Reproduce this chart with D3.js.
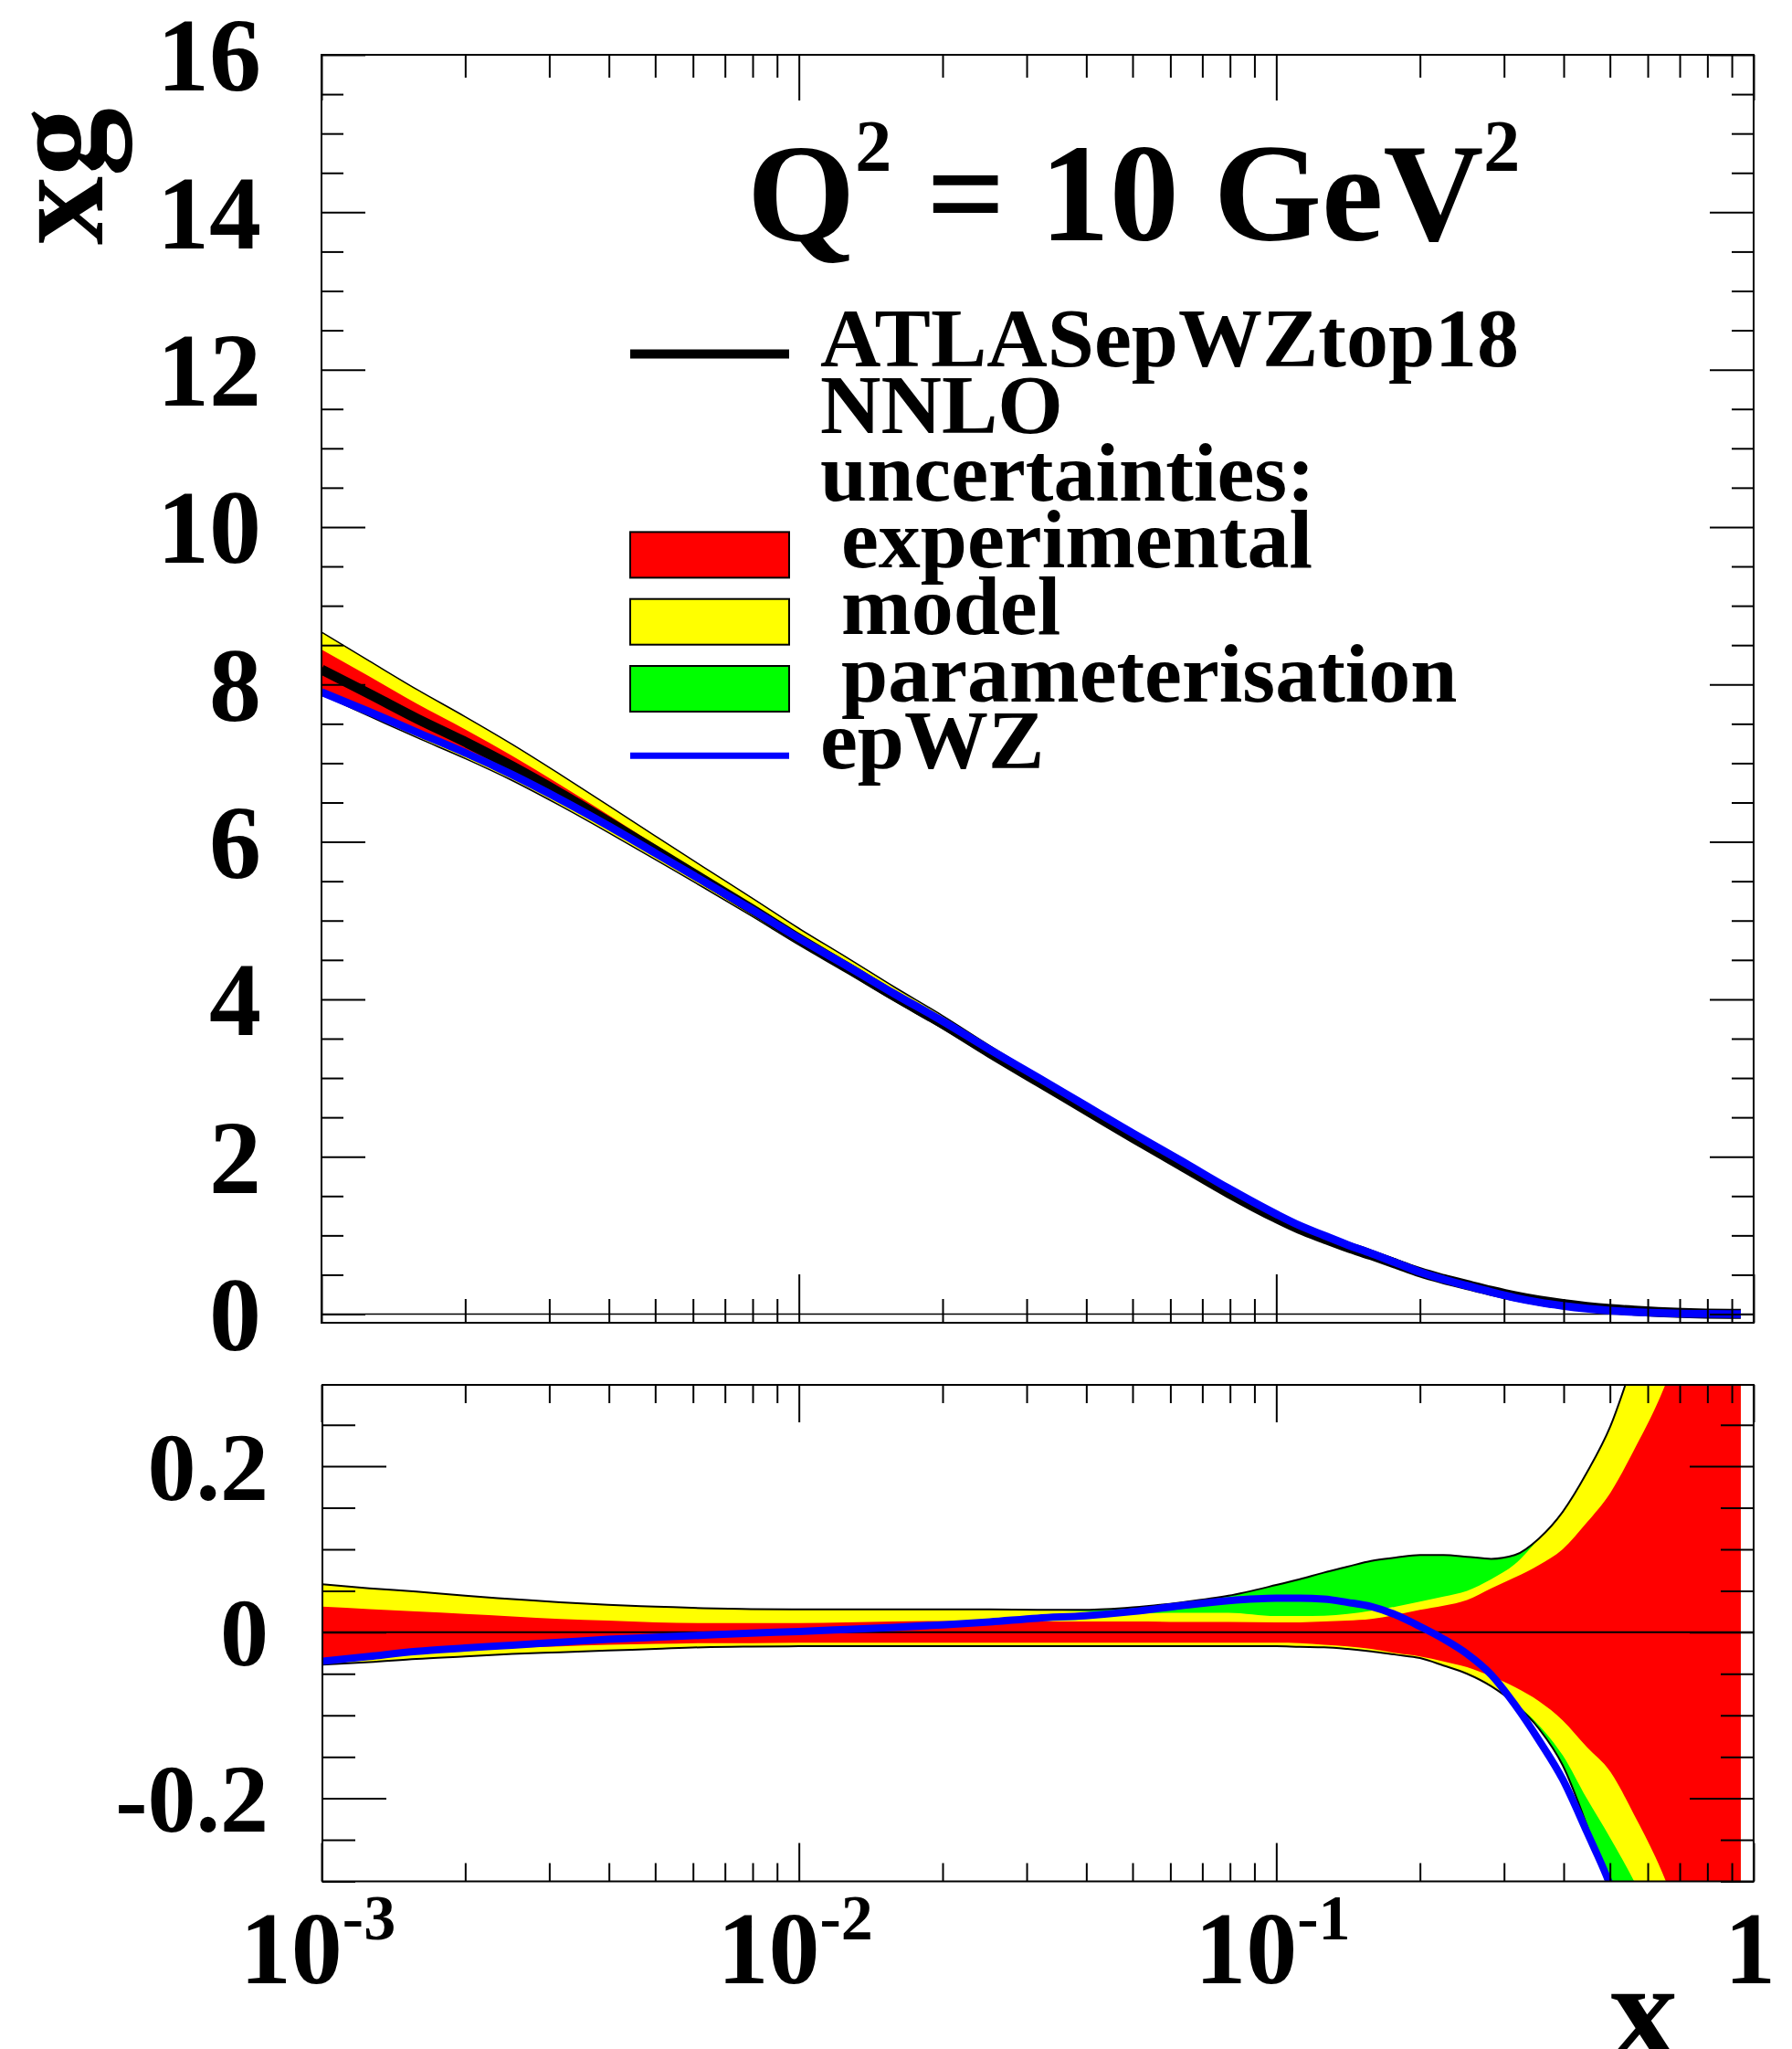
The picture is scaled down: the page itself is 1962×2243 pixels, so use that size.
<!DOCTYPE html>
<html>
<head>
<meta charset="utf-8">
<script src="https://cdn.jsdelivr.net/npm/d3@7"></script>
<style>
html, body { margin: 0; padding: 0; background: #fff; }
svg { display: block; }
text { font-family: 'Liberation Serif', 'Times New Roman', serif; font-weight: bold; fill: #000; }
</style>
</head>
<body>
<script>
// Gluon momentum density xg at Q^2 = 10 GeV^2 with relative uncertainty bands
const xValues = [0.001, 0.00126, 0.00158, 0.002, 0.00251, 0.00316, 0.00398, 0.00501, 0.00631, 0.00794,
  0.01, 0.0126, 0.0158, 0.02, 0.0251, 0.0316, 0.0398, 0.0501, 0.0631, 0.0794,
  0.1, 0.112, 0.126, 0.141, 0.158, 0.178, 0.2, 0.224, 0.251, 0.282,
  0.316, 0.355, 0.398, 0.447, 0.501, 0.562, 0.631, 0.708, 0.794, 0.891, 0.94];

const xgCentral = [8.19, 7.88, 7.57, 7.27, 6.96, 6.62, 6.26, 5.89, 5.52, 5.15,
  4.77, 4.41, 4.05, 3.69, 3.32, 2.96, 2.60, 2.24, 1.89, 1.54,
  1.22, 1.08, 0.96, 0.85, 0.75, 0.64, 0.53, 0.445, 0.37, 0.295,
  0.228, 0.172, 0.128, 0.092, 0.064, 0.043, 0.027, 0.015, 0.007, 0.003, 0.002];

// experimental
const expUp = [0.031, 0.028, 0.025, 0.022, 0.019, 0.016, 0.014, 0.012, 0.011, 0.011,
  0.011, 0.012, 0.013, 0.0135, 0.0135, 0.013, 0.013, 0.013, 0.0125, 0.0125,
  0.012, 0.012, 0.013, 0.014, 0.016, 0.021, 0.027, 0.032, 0.039, 0.053,
  0.066, 0.081, 0.100, 0.132, 0.168, 0.22, 0.278, 0.35, 0.43, 0.51, 0.55];
const expDn = [-0.033, -0.029, -0.025, -0.022, -0.019, -0.017, -0.015, -0.014, -0.013, -0.013,
  -0.0125, -0.0125, -0.0125, -0.0125, -0.0125, -0.0125, -0.0125, -0.0125, -0.0125, -0.0125,
  -0.0125, -0.013, -0.015, -0.017, -0.020, -0.025, -0.029, -0.035, -0.042, -0.053,
  -0.066, -0.083, -0.106, -0.138, -0.168, -0.22, -0.278, -0.35, -0.43, -0.51, -0.55];

// experimental + model
const modUp = [0.058, 0.053, 0.049, 0.044, 0.040, 0.036, 0.033, 0.031, 0.029, 0.028,
  0.0275, 0.0275, 0.0275, 0.0275, 0.0275, 0.027, 0.025, 0.023, 0.0235, 0.0235,
  0.0195, 0.0195, 0.020, 0.022, 0.026, 0.031, 0.037, 0.043, 0.050, 0.064,
  0.082, 0.113, 0.145, 0.192, 0.248, 0.33, 0.42, 0.50, 0.58, 0.66, 0.70];
const modDn = [-0.039, -0.036, -0.032, -0.029, -0.026, -0.024, -0.022, -0.020, -0.018, -0.0172,
  -0.0168, -0.0168, -0.0168, -0.0168, -0.0168, -0.0168, -0.0168, -0.0168, -0.0168, -0.0168,
  -0.0168, -0.0175, -0.018, -0.020, -0.023, -0.027, -0.031, -0.040, -0.050, -0.064,
  -0.085, -0.112, -0.148, -0.20, -0.248, -0.30, -0.36, -0.43, -0.50, -0.58, -0.62];

// experimental + model + parameterisation
const totUp = [0.058, 0.053, 0.049, 0.044, 0.040, 0.036, 0.033, 0.031, 0.029, 0.028,
  0.0275, 0.0275, 0.0275, 0.0275, 0.0275, 0.027, 0.027, 0.030, 0.036, 0.044,
  0.057, 0.064, 0.072, 0.079, 0.086, 0.090, 0.093, 0.093, 0.091, 0.0885,
  0.093, 0.113, 0.145, 0.192, 0.248, 0.33, 0.42, 0.50, 0.58, 0.66, 0.70];
const totDn = [-0.039, -0.036, -0.032, -0.029, -0.026, -0.024, -0.022, -0.020, -0.018, -0.0172,
  -0.0168, -0.0168, -0.0168, -0.0168, -0.0168, -0.0168, -0.0168, -0.0168, -0.0168, -0.0168,
  -0.0168, -0.0175, -0.018, -0.020, -0.023, -0.027, -0.031, -0.040, -0.050, -0.065,
  -0.086, -0.116, -0.16, -0.232, -0.315, -0.40, -0.48, -0.56, -0.64, -0.72, -0.76];

// epWZ relative to the central fit
const epwzRatio = [-0.035, -0.029, -0.023, -0.019, -0.0155, -0.012, -0.0085, -0.006, -0.0035, -0.001,
  0.001, 0.0035, 0.006, 0.009, 0.0125, 0.017, 0.020, 0.025, 0.032, 0.038,
  0.041, 0.041, 0.040, 0.036, 0.031, 0.021, 0.007, -0.008, -0.026, -0.051,
  -0.087, -0.13, -0.177, -0.24, -0.305, -0.39, -0.47, -0.55, -0.62, -0.68, -0.70];

const xMajorTicks = [0.001, 0.01, 0.1, 1];
const xTickLabels = [["10", "-3"], ["10", "-2"], ["10", "-1"], ["1", ""]];
const yTopLabels = [0, 2, 4, 6, 8, 10, 12, 14, 16];
const yBotLabels = [0.2, 0, -0.2];
const legendLabels = ["ATLASepWZtop18", "NNLO", "uncertainties:", " experimental", " model", " parameterisation", "epWZ"];

const W = 1962, H = 2243;
const svg = d3.select("body").append("svg").attr("width", W).attr("height", H);

const topFrame = { left: 352, right: 1920, top: 60, bottom: 1448 };
const botFrame = { left: 353, right: 1920, top: 1516, bottom: 2059.5 };

const x = d3.scaleLog().domain([1e-3, 1]).range([352, 1920]);
const yTop = d3.scaleLinear().domain([-0.11, 16]).range([topFrame.bottom, topFrame.top]);
const yBot = d3.scaleLinear().domain([-0.3, 0.298]).range([botFrame.bottom, botFrame.top]);

const rows = xValues.map((xv, i) => ({
  x: xv, c: xgCentral[i],
  eu: expUp[i], ed: expDn[i], mu: modUp[i], md: modDn[i], tu: totUp[i], td: totDn[i], r: epwzRatio[i]
}));

const RED = "#ff0000", YELLOW = "#ffff00", GREEN = "#00ff00", BLUE = "#0000ff";

const defs = svg.append("defs");
defs.append("clipPath").attr("id", "clipTop").append("rect")
  .attr("x", topFrame.left).attr("y", topFrame.top)
  .attr("width", topFrame.right - topFrame.left).attr("height", topFrame.bottom - topFrame.top);
defs.append("clipPath").attr("id", "clipBot").append("rect")
  .attr("x", botFrame.left).attr("y", botFrame.top)
  .attr("width", botFrame.right - botFrame.left).attr("height", botFrame.bottom - botFrame.top);

const curve = d3.curveMonotoneX;

// ---------- upper panel: absolute xg ----------
const gTop = svg.append("g").attr("clip-path", "url(#clipTop)");
const bandTop = (lo, hi) => d3.area().curve(curve)
  .x(d => x(d.x)).y0(d => yTop(d.c * (1 + lo(d)))).y1(d => yTop(d.c * (1 + hi(d))));
const lineTop = f => d3.line().curve(curve).x(d => x(d.x)).y(d => yTop(f(d)));

gTop.append("path").datum(rows).attr("fill", GREEN).attr("d", bandTop(d => d.td, d => d.tu));
gTop.append("path").datum(rows).attr("fill", YELLOW).attr("d", bandTop(d => d.md, d => d.mu));
gTop.append("path").datum(rows).attr("fill", RED).attr("d", bandTop(d => d.ed, d => d.eu));
gTop.append("path").datum(rows).attr("fill", "none").attr("stroke", "#000").attr("stroke-width", 1.5)
  .attr("d", lineTop(d => d.c * (1 + d.tu)));
gTop.append("path").datum(rows).attr("fill", "none").attr("stroke", "#000").attr("stroke-width", 1.5)
  .attr("d", lineTop(d => d.c * (1 + d.td)));
gTop.append("line").attr("x1", topFrame.left).attr("x2", topFrame.right)
  .attr("y1", yTop(0)).attr("y2", yTop(0)).attr("stroke", "#000").attr("stroke-width", 1.5);
gTop.append("path").datum(rows).attr("fill", "none").attr("stroke", "#000").attr("stroke-width", 11)
  .attr("stroke-linejoin", "round").attr("d", lineTop(d => d.c));
gTop.append("path").datum(rows).attr("fill", "none").attr("stroke", BLUE).attr("stroke-width", 8.5)
  .attr("stroke-linejoin", "round").attr("d", lineTop(d => d.c * (1 + d.r)));

// ---------- lower panel: relative uncertainties ----------
const gBot = svg.append("g").attr("clip-path", "url(#clipBot)");
const bandBot = (lo, hi) => d3.area().curve(curve)
  .x(d => x(d.x)).y0(d => yBot(lo(d))).y1(d => yBot(hi(d)));
const lineBot = f => d3.line().curve(curve).x(d => x(d.x)).y(d => yBot(f(d)));

gBot.append("path").datum(rows).attr("fill", GREEN).attr("d", bandBot(d => d.td, d => d.tu));
gBot.append("path").datum(rows).attr("fill", YELLOW).attr("d", bandBot(d => d.md, d => d.mu));
gBot.append("path").datum(rows).attr("fill", RED).attr("d", bandBot(d => d.ed, d => d.eu));
gBot.append("path").datum(rows).attr("fill", "none").attr("stroke", "#000").attr("stroke-width", 2)
  .attr("d", lineBot(d => d.tu));
gBot.append("path").datum(rows).attr("fill", "none").attr("stroke", "#000").attr("stroke-width", 2)
  .attr("d", lineBot(d => d.td));
gBot.append("line").attr("x1", botFrame.left).attr("x2", botFrame.right)
  .attr("y1", yBot(0)).attr("y2", yBot(0)).attr("stroke", "#000").attr("stroke-width", 2);
gBot.append("path").datum(rows).attr("fill", "none").attr("stroke", BLUE).attr("stroke-width", 8)
  .attr("stroke-linejoin", "round").attr("d", lineBot(d => d.r));

// ---------- frames and ticks ----------
function frame(f) {
  svg.append("rect").attr("x", f.left).attr("y", f.top)
    .attr("width", f.right - f.left).attr("height", f.bottom - f.top)
    .attr("fill", "none").attr("stroke", "#000").attr("stroke-width", 2);
}
frame(topFrame);
frame(botFrame);

function tickSet(axisFn, scale, values, size, tx, ty) {
  const g = svg.append("g").attr("transform", `translate(${tx},${ty})`)
    .call(axisFn(scale).tickValues(values).tickSize(size).tickFormat(""));
  g.select(".domain").remove();
  g.selectAll("line").attr("stroke", "#000").attr("stroke-width", 2);
}

const xMinorTicks = [];
[-3, -2, -1].forEach(k => { for (let m = 2; m <= 9; m++) xMinorTicks.push(m * Math.pow(10, k)); });

const yTopMajor = d3.range(0, 16.01, 2);
const yTopMinor = d3.range(0, 16.01, 0.5).filter(v => Math.abs(v / 2 - Math.round(v / 2)) > 1e-6);
const yBotMajor = [-0.2, 0, 0.2];
const yBotMinor = [-0.3, -0.25, -0.15, -0.1, -0.05, 0.05, 0.1, 0.15, 0.25];

// upper panel
tickSet(d3.axisTop, x, xMajorTicks, -50, 0, topFrame.top);
tickSet(d3.axisTop, x, xMinorTicks, -25, 0, topFrame.top);
tickSet(d3.axisBottom, x, xMajorTicks, -53, 0, topFrame.bottom);
tickSet(d3.axisBottom, x, xMinorTicks, -26, 0, topFrame.bottom);
tickSet(d3.axisLeft, yTop, yTopMajor, -48, topFrame.left, 0);
tickSet(d3.axisLeft, yTop, yTopMinor, -24, topFrame.left, 0);
tickSet(d3.axisRight, yTop, yTopMajor, -48, topFrame.right, 0);
tickSet(d3.axisRight, yTop, yTopMinor, -24, topFrame.right, 0);

// lower panel
tickSet(d3.axisTop, x, xMajorTicks, -41, 0, botFrame.top);
tickSet(d3.axisTop, x, xMinorTicks, -20, 0, botFrame.top);
tickSet(d3.axisBottom, x, xMajorTicks, -42, 0, botFrame.bottom);
tickSet(d3.axisBottom, x, xMinorTicks, -20, 0, botFrame.bottom);
tickSet(d3.axisLeft, yBot, yBotMajor, -70, botFrame.left, 0);
tickSet(d3.axisLeft, yBot, yBotMinor, -36, botFrame.left, 0);
tickSet(d3.axisRight, yBot, yBotMajor, -70, botFrame.right, 0);
tickSet(d3.axisRight, yBot, yBotMinor, -36, botFrame.right, 0);

// ---------- tick labels ----------
const fsTop = 114, fsBot = 106, fsX = 112, fsSup = 70;
svg.append("g").selectAll("text").data(yTopLabels).join("text")
  .attr("x", 286).attr("y", d => yTop(d) + 0.345 * fsTop)
  .attr("text-anchor", "end").attr("font-size", fsTop).text(d => String(d));

svg.append("g").selectAll("text").data(yBotLabels).join("text")
  .attr("x", 294).attr("y", d => yBot(d) + 0.345 * fsBot)
  .attr("text-anchor", "end").attr("font-size", fsBot).text(d => String(d));

const xl = svg.append("g").selectAll("text").data(xMajorTicks).join("text")
  .attr("x", d => x(d) - 4).attr("y", 2171)
  .attr("text-anchor", "middle").attr("font-size", fsX);
xl.each(function (d, i) {
  const t = d3.select(this);
  const [base, sup] = xTickLabels[i];
  t.append("tspan").text(base);
  if (sup) t.append("tspan").attr("font-size", fsSup).attr("dy", -48).text(sup);
});

// ---------- axis titles ----------
svg.append("text").attr("transform", "translate(112,118) rotate(-90)")
  .attr("text-anchor", "end").attr("font-size", 150).text("xg");
svg.append("text").attr("x", 1837).attr("y", 2252)
  .attr("text-anchor", "end").attr("font-size", 150).text("x");

// ---------- panel title ----------
const title = svg.append("text").attr("x", 818).attr("y", 263)
  .attr("font-size", 152).attr("xml:space", "preserve").style("white-space", "pre");
title.append("tspan").text("Q");
title.append("tspan").attr("font-size", 80).attr("dy", -76).text("2");
title.append("tspan").attr("dy", 76).text(" = 10 GeV");
title.append("tspan").attr("font-size", 80).attr("dy", -76).text("2");

// ---------- legend ----------
const legX0 = 690, legX1 = 864, legText = 898, legBase = 401, legStep = 73.3;
const legendKinds = [
  { type: "line", color: "#000", width: 10 },
  null, null,
  { type: "box", color: RED },
  { type: "box", color: YELLOW },
  { type: "box", color: GREEN },
  { type: "line", color: BLUE, width: 7 }
];
const leg = svg.append("g");
legendLabels.forEach((lab, i) => {
  const base = legBase + i * legStep;
  const mid = base - 13.5;
  const k = legendKinds[i];
  if (k && k.type === "line") {
    leg.append("line").attr("x1", legX0).attr("x2", legX1).attr("y1", mid).attr("y2", mid)
      .attr("stroke", k.color).attr("stroke-width", k.width);
  } else if (k && k.type === "box") {
    leg.append("rect").attr("x", legX0).attr("y", mid - 25).attr("width", legX1 - legX0).attr("height", 50)
      .attr("fill", k.color).attr("stroke", "#000").attr("stroke-width", 2);
  }
  leg.append("text").attr("x", legText).attr("y", base).attr("font-size", 92)
    .attr("xml:space", "preserve").style("white-space", "pre").text(lab);
});
</script>
</body>
</html>
